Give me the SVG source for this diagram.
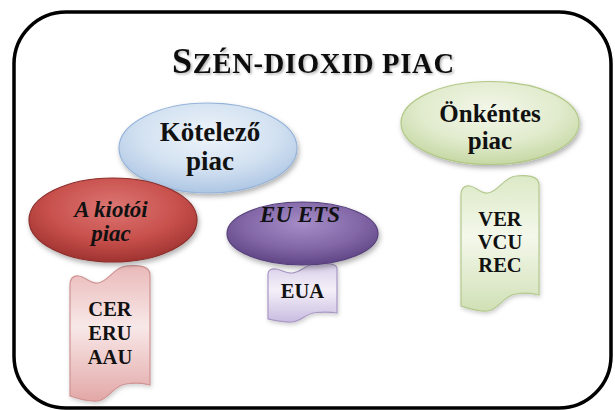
<svg xmlns="http://www.w3.org/2000/svg" width="615" height="410" viewBox="0 0 615 410">
  <style>
    text { font-family: "Liberation Serif", "Times New Roman", serif; font-weight: bold; fill: #111; text-anchor: middle; }
    .it { font-style: italic; }
    .ell { filter: url(#shadow); }
    .scroll { filter: url(#shadowSoft); stroke-width: 1.2; }
  </style>
  <defs>
    <filter id="shadow" x="-20%" y="-20%" width="140%" height="150%">
      <feDropShadow dx="1.5" dy="3" stdDeviation="2.5" flood-color="#000" flood-opacity="0.3"/>
    </filter>
    <filter id="shadowSoft" x="-20%" y="-20%" width="140%" height="140%">
      <feDropShadow dx="1" dy="2" stdDeviation="2" flood-color="#000" flood-opacity="0.2"/>
    </filter>
    <filter id="titleShadow" x="-10%" y="-30%" width="120%" height="160%">
      <feDropShadow dx="1.5" dy="1.5" stdDeviation="1.2" flood-color="#000" flood-opacity="0.3"/>
    </filter>
    <radialGradient id="gBlue" cx="50%" cy="35%" r="65%">
      <stop offset="0" stop-color="#eef4fa"/>
      <stop offset="0.6" stop-color="#d2e1f1"/>
      <stop offset="1" stop-color="#aec6e4"/>
    </radialGradient>
    <radialGradient id="gRed" cx="50%" cy="35%" r="65%">
      <stop offset="0" stop-color="#dc7673"/>
      <stop offset="0.6" stop-color="#c8504c"/>
      <stop offset="1" stop-color="#9f3330"/>
    </radialGradient>
    <radialGradient id="gPurple" cx="50%" cy="35%" r="65%">
      <stop offset="0" stop-color="#a58dc8"/>
      <stop offset="0.6" stop-color="#8266a6"/>
      <stop offset="1" stop-color="#5f4585"/>
    </radialGradient>
    <radialGradient id="gGreen" cx="50%" cy="35%" r="65%">
      <stop offset="0" stop-color="#f3f7ea"/>
      <stop offset="0.6" stop-color="#e1ebcd"/>
      <stop offset="1" stop-color="#c6d8a4"/>
    </radialGradient>
    <linearGradient id="sRed" x1="0" y1="0" x2="0" y2="1">
      <stop offset="0" stop-color="#eab9b9"/>
      <stop offset="0.45" stop-color="#f8e8e8"/>
      <stop offset="1" stop-color="#e3a7a7"/>
    </linearGradient>
    <linearGradient id="sPurple" x1="0" y1="0" x2="0" y2="1">
      <stop offset="0" stop-color="#d7cde8"/>
      <stop offset="0.45" stop-color="#f4f0f9"/>
      <stop offset="1" stop-color="#c9bce0"/>
    </linearGradient>
    <linearGradient id="sGreen" x1="0" y1="0" x2="0" y2="1">
      <stop offset="0" stop-color="#dce9c6"/>
      <stop offset="0.45" stop-color="#f4f8eb"/>
      <stop offset="1" stop-color="#d1e0b6"/>
    </linearGradient>
  </defs>

  <rect id="frame" x="14" y="12" width="597" height="396" rx="52" ry="52" fill="#fff" stroke="#000" stroke-width="3.5"/>

  <text id="title" x="172" y="73" textLength="282" style="text-anchor:start;filter:url(#titleShadow)"><tspan font-size="36">S</tspan><tspan font-size="28.5">ZÉN-DIOXID PIAC</tspan></text>

  <g id="connectors"/>

  <g id="scroll-kioto">
    <path class="scroll" fill="url(#sRed)" stroke="#cf9393" d="M70,285 C70,278 74,275 79,276 C86,277 90,284 98,283 C108,282 114,267 126,266 C136,265 150,265 150,275 L150,385 C140,382 132,383 126,384 C114,385 108,400 98,401 C88,402 76,398 70,396 Z"/>
    <text x="110" y="316" font-size="20.5">CER</text>
    <text x="110" y="340" font-size="20.5">ERU</text>
    <text x="110" y="364" font-size="20.5">AAU</text>
  </g>

  <g id="scroll-euets">
    <path class="scroll" fill="url(#sPurple)" stroke="#a997c6" d="M268,274 C268,270 271.5,268.5 276,269 C282,269.6 285,273.5 292,273 C301,272.4 306,264 316,263.5 C325,263 337,263 337,268.5 L337,313 C328,311.4 321.5,312 316,312.5 C306,313 301,321.5 292,322 C283.5,322.5 273,320 268,319 Z"/>
    <text x="302.5" y="298" font-size="20.5">EUA</text>
  </g>

  <g id="scroll-onkentes">
    <path class="scroll" fill="url(#sGreen)" stroke="#b3c98e" d="M461,195 C461,188 465,185 470,186 C477,187 480,194 488,193 C498,192 504,177 516,176 C525,175 539,175 539,185 L539,295 C529,292 521,293 516,294 C504,295 498,310 488,311 C478,312 467,308 461,306 Z"/>
    <text x="500" y="226" font-size="20.5">VER</text>
    <text x="500" y="249" font-size="20.5">VCU</text>
    <text x="500" y="272" font-size="20.5">REC</text>
  </g>

  <g id="kotelezo">
    <ellipse class="ell" cx="208" cy="148" rx="89" ry="45" fill="url(#gBlue)" stroke="#96b4d9" stroke-width="1.2"/>
    <text x="210" y="141" font-size="27">Kötelező</text>
    <text x="210" y="170" font-size="27">piac</text>
  </g>

  <g id="kioto">
    <ellipse class="ell" cx="113" cy="220" rx="84" ry="42" fill="url(#gRed)" stroke="#8c2d2a" stroke-width="1.2"/>
    <text class="it" x="111" y="217" font-size="23">A kiotói</text>
    <text class="it" x="111" y="241" font-size="23">piac</text>
  </g>

  <g id="euets">
    <ellipse class="ell" cx="302.5" cy="233.5" rx="75.5" ry="31.5" fill="url(#gPurple)" stroke="#56407c" stroke-width="1.2"/>
    <text class="it" x="300" y="222" font-size="23">EU ETS</text>
  </g>

  <g id="onkentes">
    <ellipse class="ell" cx="490" cy="123" rx="89" ry="41.5" fill="url(#gGreen)" stroke="#b2c886" stroke-width="1.2"/>
    <text x="490" y="122" font-size="25">Önkéntes</text>
    <text x="490" y="149" font-size="25">piac</text>
  </g>
</svg>
